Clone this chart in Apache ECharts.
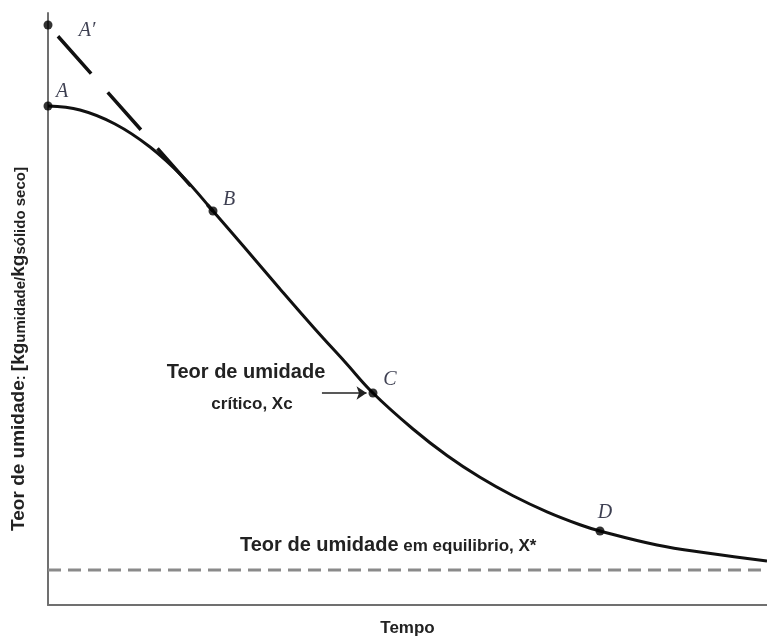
<!DOCTYPE html>
<html>
<head>
<meta charset="utf-8">
<script src="https://cdn.jsdelivr.net/npm/echarts@6/dist/echarts.min.js"></script>
<style>
html,body{margin:0;padding:0;background:#fff;}
#chart{width:767px;height:639px;}
</style>
</head>
<body>
<div id="chart"></div>
<script>
// ---- data (arbitrary units: tempo 0-100, teor de umidade 0-100) ----
const curveX = [0, 4.45, 9.32, 14.19, 18.78, 22.95, 27.40, 32.27, 37.13, 41.31, 45.20, 50.76, 55.49, 60.08, 64.67, 69.40, 73.99, 76.77, 84.70, 91.66, 100];
const curveY = [84.29, 83.61, 81.25, 77.36, 72.30, 66.55, 60.30, 53.38, 46.62, 41.05, 35.81, 29.73, 25.25, 21.57, 18.45, 15.74, 13.56, 12.50, 10.14, 8.78, 7.43];
const pointNames = ["A\u2032", "A", "B", "C", "D"];
const pointX = [0, 0, 22.95, 45.20, 76.77];
const pointY = [97.97, 84.29, 66.55, 35.81, 12.50];
const tangentX = [0, 22.95];
const tangentY = [97.97, 66.55];
const equilibriumY = 5.91;
const arrowX = [38.1, 44.3];
const arrowY = 35.81;

// ---- styles ----
const labelOffsets = {"A\u2032": [39, 6], "A": [14, -14], "B": [16, -11], "C": [17, -13], "D": [5, -18]};

const chart = echarts.init(document.getElementById('chart'));

const curveData = curveX.map((x, i) => [x, curveY[i]]);
const tangentData = tangentX.map((x, i) => [x, tangentY[i]]);
const pointData = pointX.map((x, i) => ({
  value: [x, pointY[i]],
  name: pointNames[i],
  label: { offset: labelOffsets[pointNames[i]] }
}));

const option = {
  backgroundColor: '#ffffff',
  animation: false,
  grid: { left: 48, right: 0, top: 13, bottom: 34, containLabel: false, outerBoundsMode: 'none' },
  xAxis: {
    type: 'value', min: 0, max: 100,
    name: 'Tempo', nameLocation: 'middle', nameGap: 15,
    nameTextStyle: { fontFamily: 'Liberation Sans, Arial', fontWeight: 'bold', fontSize: 17, color: '#222' },
    axisLine: { lineStyle: { color: '#707070', width: 2 } },
    axisTick: { show: false }, axisLabel: { show: false }, splitLine: { show: false }
  },
  yAxis: {
    type: 'value', min: 0, max: 100,
    name: '{a|Teor de umidade}{s|: }{a|[kg}{s|umidade/}{a|kg}{s|sólido seco]}',
    nameLocation: 'middle', nameRotate: 90, nameGap: 20,
    nameTextStyle: {
      color: '#222', padding: [0, 80, 0, 0],
      rich: {
        a: { fontFamily: 'Liberation Sans, Arial', fontWeight: 'bold', fontSize: 19, color: '#222', verticalAlign: 'bottom' },
        s: { fontFamily: 'Liberation Sans, Arial', fontWeight: 'bold', fontSize: 15, color: '#222', verticalAlign: 'bottom' }
      }
    },
    axisLine: { lineStyle: { color: '#707070', width: 2 } },
    axisTick: { show: false }, axisLabel: { show: false }, splitLine: { show: false }
  },
  series: [
    {
      name: 'equilibrio', type: 'line', symbol: 'none', silent: true,
      data: [[0, equilibriumY], [100, equilibriumY]],
      lineStyle: { color: '#8a8a8a', width: 3, type: [13, 7] }
    },
    {
      name: 'tangente', type: 'line', symbol: 'none', silent: true,
      data: tangentData,
      lineStyle: { color: '#111', width: 3.5, type: [50, 25], dashOffset: 60, cap: 'butt' }
    },
    {
      name: 'curva', type: 'line', symbol: 'none', smooth: 0.4, silent: true,
      data: curveData,
      lineStyle: { color: '#111', width: 3 },
      markLine: {
        silent: true, symbol: ['none', 'arrow'], symbolSize: 10,
        label: { show: false },
        lineStyle: { color: '#222', width: 1.6, type: 'solid' },
        emphasis: { disabled: true },
        data: [[{ coord: [arrowX[0], arrowY] }, { coord: [arrowX[1], arrowY] }]]
      }
    },
    {
      name: 'pontos', type: 'scatter', symbol: 'circle', symbolSize: 9, silent: true,
      itemStyle: { color: '#000' },
      data: pointData,
      z: 5,
      label: {
        show: true, position: 'inside', formatter: '{b}',
        fontFamily: 'Liberation Serif, Times New Roman', fontStyle: 'italic', fontSize: 20,
        color: '#0d0f26', align: 'center', verticalAlign: 'middle'
      }
    }
  ],
  graphic: [
    { type: 'text', x: 246, y: 372, style: { text: 'Teor de umidade', font: 'bold 20px "Liberation Sans", Arial', fill: '#222', align: 'center', verticalAlign: 'middle' } },
    { type: 'text', x: 252, y: 404, style: { text: 'crítico, Xc', font: 'bold 17px "Liberation Sans", Arial', fill: '#222', align: 'center', verticalAlign: 'middle' } },
    { type: 'text', x: 240, y: 545, style: {
        text: '{a|Teor de umidade}{b| em equilibrio, X*}', align: 'left', verticalAlign: 'middle',
        rich: {
          a: { font: 'bold 20px "Liberation Sans", Arial', fill: '#222', verticalAlign: 'bottom' },
          b: { font: 'bold 17px "Liberation Sans", Arial', fill: '#222', verticalAlign: 'bottom' }
        }
    } }
  ]
};
chart.setOption(option);
</script>
</body>
</html>
